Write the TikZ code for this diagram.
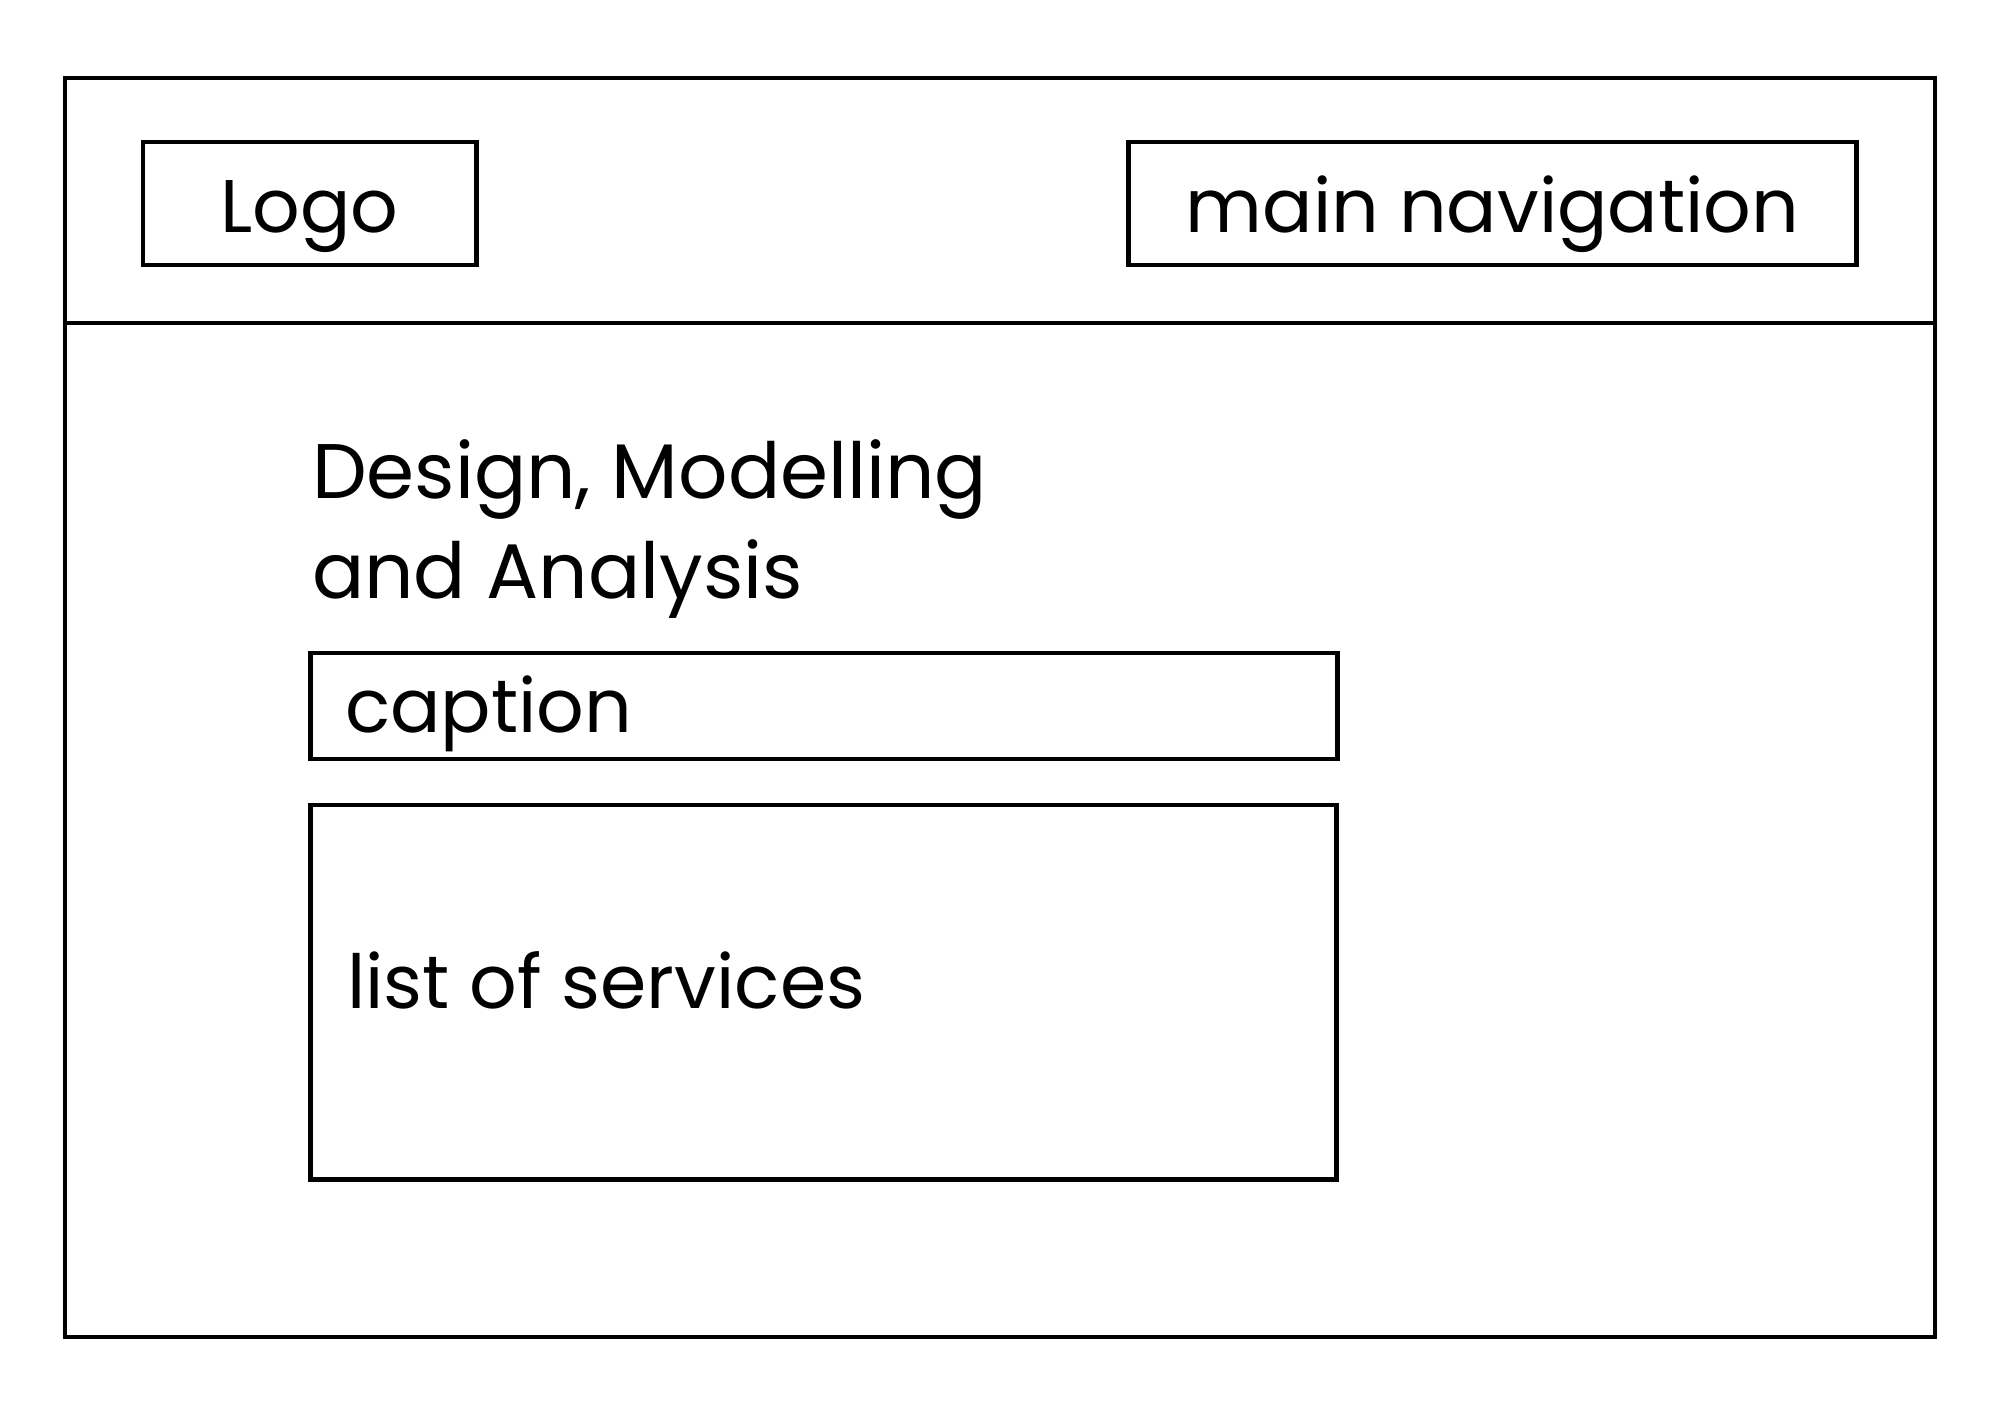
\documentclass[tikz,border=0pt]{standalone}
\usepackage{fontspec}
\setmainfont{Poppins}
\begin{document}
\begin{tikzpicture}[x=0.01cm,y=-0.01cm,
  frame/.style={draw=black,line width=0.048cm,inner sep=0pt,outer sep=0pt},
  lbl/.style={inner sep=0pt,outer sep=0pt,font=\fontsize{21.2}{28}\selectfont},
  ttl/.style={inner sep=0pt,outer sep=0pt,font=\fontsize{22}{28.45}\selectfont}]
\useasboundingbox[fill=white] (0,0) rectangle (2000,1414);
% outer page frame
\draw[frame] (65,78) rectangle (1935,1337);
\coordinate (divL) at (65,323);
\coordinate (divR) at (1935,323);
\draw[frame] (divL) -- (divR);
% header boxes
\node[frame,minimum width=3.33cm,minimum height=1.23cm] (logobox) at (309.5,203.5) {};
\node[frame,minimum width=7.27cm,minimum height=1.23cm] (navbox) at (1492.5,203.5) {};
\node[lbl,anchor=base] (logo) at (309.5,232) {Logo};
\node[lbl,anchor=base] (nav) at (1492.5,232) {main navigation};
% title
\node[ttl,anchor=base west] (title1) at (312,498) {Design, Modelling};
\node[ttl,anchor=base west] (title2) at (312,598) {and Analysis};
% caption
\node[frame,minimum width=10.26cm,minimum height=1.06cm] (capbox) at (824,706) {};
\node[lbl,anchor=base west] (cap) at (345,732) {caption};
% services
\node[frame,minimum width=10.25cm,minimum height=3.74cm] (servbox) at (823.5,992) {};
\node[lbl,anchor=base west] (serv) at (347,1008) {list of services};
\end{tikzpicture}
\end{document}
